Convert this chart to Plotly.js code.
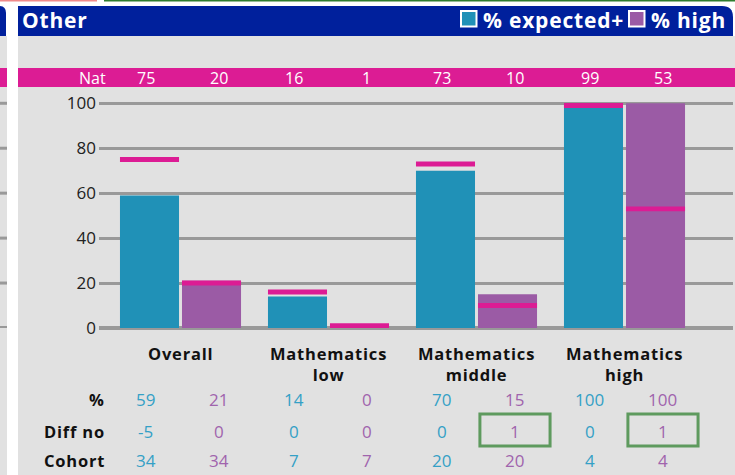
<!DOCTYPE html>
<html>
<head>
<meta charset="utf-8">
<script src="https://cdn.plot.ly/plotly-3.0.1.min.js"></script>
<style>
html,body{margin:0;padding:0;background:#fff;}
#chart{width:735px;height:475px;}
text[style*="font-weight: bold"], text[style*="font-weight: 700"]{letter-spacing:0.8px;}
</style>
</head>
<body>
<div id="chart"></div>
<script>
// ---- data ----
const categories = ['Overall', 'Mathematics low', 'Mathematics middle', 'Mathematics high'];
const categoryLabels = ['Overall', 'Mathematics<br>low', 'Mathematics<br>middle', 'Mathematics<br>high'];
const pctExpected = [59, 14, 70, 100];
const pctHigh = [21, 0, 15, 100];
const natExpected = [75, 16, 73, 99];
const natHigh = [20, 1, 10, 53];
const diffExpected = [-5, 0, 0, 0];
const diffHigh = [0, 0, 1, 1];
const cohortExpected = [34, 7, 20, 4];
const cohortHigh = [34, 7, 20, 4];
const rowLabels = ['%', 'Diff no', 'Cohort'];
const yTicks = [0, 20, 40, 60, 80, 100];
const seriesNames = ['% expected+', '% high'];

// ---- style ----
const TEAL = '#2091b7', PURPLE = '#9b5ba5', MAGENTA = '#dc1c94', NAVY = '#00209c';
const PANEL = '#e1e1e1', GRID = '#999999', TEAL_TXT = '#34a0c6', PURPLE_TXT = '#a064ad';
const FONT = 'Open Sans, Noto Sans, sans-serif';

const L = 99, R = 733, T = 99, B = 328, W = 735, H = 475;
const px = x => (x - L) / (R - L);
const py = y => (B - y) / (B - T);

const BARGAP = 0.162, GROUPGAP = 0.048;
const markThick = 2.2;
// text column offsets (category units) for the two series
const colOff = [-0.235, 0.26];

const idx = categories.map((c, i) => i);

const traces = [
  {type: 'bar', x: categories, y: pctExpected, offsetgroup: 'a', marker: {color: TEAL}, name: seriesNames[0]},
  {type: 'bar', x: categories, y: pctHigh, offsetgroup: 'b', marker: {color: PURPLE}, name: seriesNames[1]},
  {type: 'bar', x: categories, y: natExpected.map(() => markThick), base: natExpected.map(v => v - markThick / 2),
   offsetgroup: 'a', marker: {color: MAGENTA}},
  {type: 'bar', x: categories, y: natHigh.map(() => markThick), base: natHigh.map(v => v - markThick / 2),
   offsetgroup: 'b', marker: {color: MAGENTA}}
];

const shapes = [];
const annotations = [];

// panels
shapes.push({type: 'rect', xref: 'paper', yref: 'paper', x0: px(18), x1: px(735), y0: py(475), y1: py(36), fillcolor: PANEL, line: {width: 0}, layer: 'below'});
shapes.push({type: 'rect', xref: 'paper', yref: 'paper', x0: px(0), x1: px(7), y0: py(475), y1: py(36), fillcolor: PANEL, line: {width: 0}, layer: 'below'});
// header bars with rounded top-right corner
function roundedHeader(x0, x1, y0, y1, r) {
  return `M${px(x0)},${py(y1)} L${px(x0)},${py(y0)} L${px(x1 - r)},${py(y0)} Q${px(x1)},${py(y0)} ${px(x1)},${py(y0 + r)} L${px(x1)},${py(y1)} Z`;
}
shapes.push({type: 'path', xref: 'paper', yref: 'paper', path: roundedHeader(18, 733, 6, 36, 11), fillcolor: NAVY, line: {width: 0}});
shapes.push({type: 'path', xref: 'paper', yref: 'paper', path: roundedHeader(-4, 6, 6, 36, 7), fillcolor: NAVY, line: {width: 0}});
// top thin lines
shapes.push({type: 'line', xref: 'paper', yref: 'paper', x0: px(0), x1: px(97), y0: py(0.7), y1: py(0.7), line: {color: '#f08a8a', width: 1.5}});
shapes.push({type: 'line', xref: 'paper', yref: 'paper', x0: px(104), x1: px(735), y0: py(0.7), y1: py(0.7), line: {color: '#2f7d2f', width: 1.5}});
// magenta national band
shapes.push({type: 'rect', xref: 'paper', yref: 'paper', x0: px(18), x1: px(735), y0: py(87), y1: py(68), fillcolor: MAGENTA, line: {width: 0}});
shapes.push({type: 'rect', xref: 'paper', yref: 'paper', x0: px(0), x1: px(7), y0: py(87), y1: py(68), fillcolor: MAGENTA, line: {width: 0}});
// gridlines of neighbouring (cut-off) panel
yTicks.forEach(v => {
  shapes.push({type: 'line', xref: 'paper', yref: 'y', x0: px(0), x1: px(7), y0: v, y1: v,
    line: {color: GRID, width: v === 0 ? 4 : 3}, layer: 'below'});
});
// legend
const legendItems = [{x: 461, color: TEAL, text: seriesNames[0]}, {x: 629, color: PURPLE, text: seriesNames[1]}];
legendItems.forEach(it => {
  shapes.push({type: 'rect', xref: 'paper', yref: 'paper', x0: px(it.x), x1: px(it.x + 15.5), y0: py(26.5), y1: py(11),
    fillcolor: it.color, line: {color: '#ffffff', width: 2}});
  annotations.push({xref: 'paper', yref: 'paper', x: px(it.x + 20), y: py(20.5), xanchor: 'left', yanchor: 'middle',
    text: it.text, showarrow: false, font: {family: FONT, size: 21, color: '#ffffff', weight: 'bold'}});
});
annotations.push({xref: 'paper', yref: 'paper', x: px(20), y: py(20), xanchor: 'left', yanchor: 'middle',
  text: 'Other', showarrow: false, font: {family: FONT, size: 21, color: '#ffffff', weight: 'bold'}});

// national row
annotations.push({xref: 'paper', yref: 'paper', x: px(108), y: py(78), xanchor: 'right', yanchor: 'middle',
  text: 'Nat', showarrow: false, font: {family: FONT, size: 16, color: '#ffffff'}});
idx.forEach(i => {
  [natExpected[i], natHigh[i]].forEach((v, s) => {
    annotations.push({xref: 'x', yref: 'paper', x: i + colOff[s], y: py(78), xanchor: 'center', yanchor: 'middle',
      text: String(v), showarrow: false, font: {family: FONT, size: 16, color: '#ffffff'}});
  });
  // category labels
  annotations.push({xref: 'x', yref: 'paper', x: i, y: py(340), xanchor: 'center', yanchor: 'top',
    text: categoryLabels[i], showarrow: false, font: {family: FONT, size: 16.5, color: '#111111', weight: 'bold'}});
});

// table
const rowY = [399, 431, 460];
const rows = [[pctExpected, pctHigh], [diffExpected, diffHigh], [cohortExpected, cohortHigh]];
const colColors = [TEAL_TXT, PURPLE_TXT];
rowLabels.forEach((lab, r) => {
  annotations.push({xref: 'paper', yref: 'paper', x: px(107), y: py(rowY[r]), xanchor: 'right', yanchor: 'middle',
    text: lab, showarrow: false, font: {family: FONT, size: 16.5, color: '#111111', weight: 'bold'}});
  idx.forEach(i => {
    [0, 1].forEach(s => {
      annotations.push({xref: 'x', yref: 'paper', x: i + colOff[s], y: py(rowY[r]), xanchor: 'center', yanchor: 'middle',
        text: String(rows[r][s][i]), showarrow: false, font: {family: FONT, size: 17, color: colColors[s]}});
    });
  });
});
// highlight boxes on positive differences
idx.forEach(i => {
  [diffExpected[i], diffHigh[i]].forEach((v, s) => {
    if (v > 0) {
      shapes.push({type: 'rect', xref: 'x', yref: 'paper', x0: i + colOff[s] - 0.237, x1: i + colOff[s] + 0.237, y0: py(446), y1: py(414),
        line: {color: '#5e9a5e', width: 3}, fillcolor: 'rgba(0,0,0,0)'});
    }
  });
});

const layout = {
  width: W, height: H,
  margin: {l: L, r: W - R, t: T, b: H - B, pad: 0},
  paper_bgcolor: '#ffffff',
  plot_bgcolor: 'rgba(0,0,0,0)',
  barmode: 'group',
  bargap: BARGAP,
  bargroupgap: GROUPGAP,
  showlegend: false,
  xaxis: {type: 'category', categoryarray: categories, range: [-0.5507, 3.7331], showticklabels: false,
    showgrid: false, zeroline: false, showline: false, ticks: '', fixedrange: true},
  yaxis: {range: [0, 101.9], tickvals: yTicks, showgrid: true, gridcolor: GRID, gridwidth: 3,
    zeroline: true, zerolinecolor: GRID, zerolinewidth: 4, ticks: '', ticklabelstandoff: 2,
    tickfont: {family: FONT, size: 17, color: '#222222'}, showline: false, fixedrange: true},
  shapes: shapes,
  annotations: annotations,
  font: {family: FONT}
};

Plotly.newPlot('chart', traces, layout, {staticPlot: true, displayModeBar: false});
</script>
</body>
</html>
